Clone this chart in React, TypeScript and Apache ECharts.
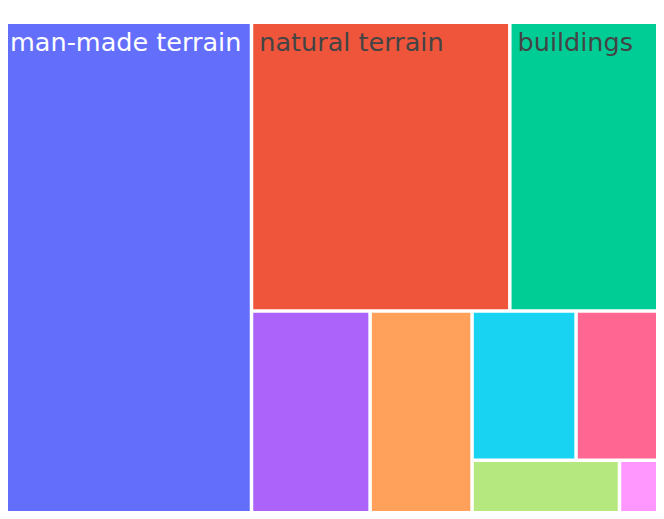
import React, { useEffect, useRef } from "react";
import * as echarts from "echarts";

const categories = [
  "man-made terrain",
  "natural terrain",
  "buildings",
  "high vegetation",
  "low vegetation",
  "hard scape",
  "scanning artefacts",
  "cars",
  "unlabeled",
];
const shares = [37.77, 22.98, 13.56, 7.42, 6.38, 4.78, 3.96, 2.45, 0.71];
const colors = [
  "#636efa",
  "#EF553B",
  "#00cc96",
  "#ab63fa",
  "#FFA15A",
  "#19d3f3",
  "#FF6692",
  "#B6E880",
  "#FF97FF",
];
const labelColors = ["#ffffff", "#444444", "#444444", "#444444", "#444444", "#444444", "#444444", "#444444", "#444444"];
const showLabel = [true, true, true, false, false, false, false, false, false];

export default function App() {
  const ref = useRef<HTMLDivElement>(null);
  useEffect(() => {
    if (!ref.current) return;
    const chart = echarts.init(ref.current, undefined, { renderer: "svg" });
    const data = categories.map((name, i) => ({
      name,
      value: shares[i],
      itemStyle: { color: colors[i] },
      label: { show: showLabel[i], color: labelColors[i] },
    }));
    chart.setOption({
      animation: false,
      backgroundColor: "#ffffff",
      tooltip: { show: false },
      series: [
        {
          type: "treemap",
          left: 4,
          top: 24,
          width: 656.5,
          height: 488.5,
          squareRatio: 1,
          roam: false,
          nodeClick: false,
          breadcrumb: { show: false },
          sort: "desc",
          label: {
            show: true,
            position: "insideTopLeft",
            distance: 1,
            offset: [0, -1],
            fontFamily: "DejaVu Sans",
            fontSize: 25.5,
            overflow: "none",
          },
          upperLabel: { show: false },
          levels: [
            { itemStyle: { gapWidth: 3.5, borderWidth: 0, borderColor: "#fff" } },
            { itemStyle: { borderWidth: 0, gapWidth: 0 } },
          ],
          data,
        },
      ],
    });
    return () => chart.dispose();
  }, []);
  return <div ref={ref} style={{ width: 664, height: 519, margin: -8 }} />;
}
